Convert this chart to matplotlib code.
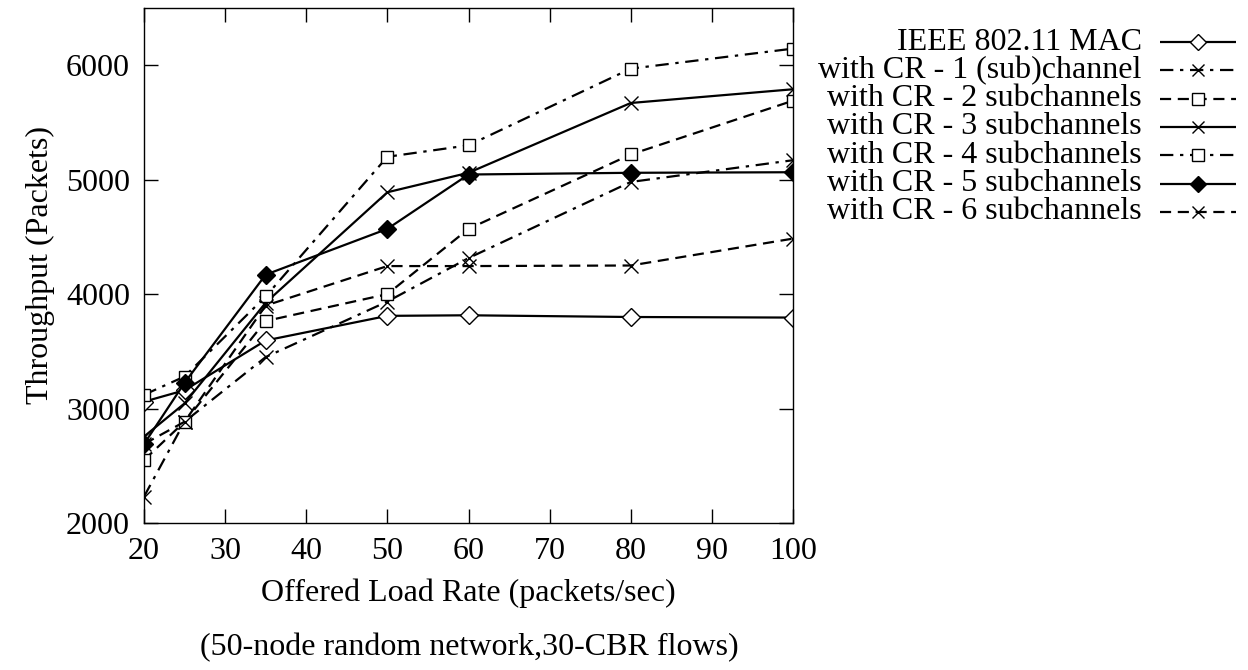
import numpy as np
import matplotlib
matplotlib.use('Agg')
import matplotlib.pyplot as plt

plt.rcParams['font.family'] = ['Liberation Serif', 'DejaVu Serif']
plt.rcParams['font.size'] = 23

# offered load (packets/sec)
load = [20, 25, 35, 50, 60, 80, 100]

ieee_mac = [3060, 3160, 3595, 3810, 3815, 3800, 3795]
cr_1 = [2230, 2885, 3450, 3935, 4315, 4980, 5170]
cr_2 = [2550, 2885, 3765, 4000, 4570, 5220, 5690]
cr_3 = [2755, 3045, 3925, 4890, 5060, 5670, 5790]
cr_4 = [3120, 3280, 3980, 5200, 5300, 5970, 6145]
cr_5 = [2690, 3225, 4170, 4570, 5045, 5060, 5065]
cr_6 = [2690, 2885, 3900, 4245, 4245, 4250, 4485]

labels = ['IEEE 802.11 MAC', 'with CR - 1 (sub)channel', 'with CR - 2 subchannels',
          'with CR - 3 subchannels', 'with CR - 4 subchannels', 'with CR - 5 subchannels',
          'with CR - 6 subchannels']

dashdot = (0, (6, 3, 1.5, 3))
dashed = (0, (5, 3))
# style per series: linestyle, marker, fill, marker size
styles = [('-', 'D', 'white', 9),
          (dashdot, 'x', 'white', 10),
          (dashed, 's', 'white', 9),
          ('-', 'x', 'white', 10),
          (dashdot, 's', 'white', 9),
          ('-', 'D', 'black', 9),
          (dashed, 'x', 'white', 10)]

series = [ieee_mac, cr_1, cr_2, cr_3, cr_4, cr_5, cr_6]

fig = plt.figure(figsize=(12.48, 6.7), dpi=100)
ax = fig.add_axes([144 / 1248, 1 - 523 / 670, (793 - 144) / 1248, (523 - 8) / 670])

for vals, (ls, mk, fc, ms) in zip(series, styles):
    ax.plot(load, vals, color='black', linestyle=ls, linewidth=1.6, marker=mk,
            markersize=ms, markerfacecolor=fc, markeredgecolor='black', markeredgewidth=1.0)

ax.set_xlim(20, 100)
ax.set_ylim(2000, 6500)
ax.set_xticks(np.arange(20, 101, 10))
ax.set_yticks(np.arange(2000, 6001, 1000))
ax.tick_params(direction='in', top=True, right=True, length=10, width=1, pad=10)
for s in ax.spines.values():
    s.set_linewidth(1)
ax.set_xlabel('Offered Load Rate (packets/sec)', labelpad=9)
ax.set_ylabel('Throughput (Packets)', labelpad=8)

fig.text(469 / 1248, 1 - 648 / 670, '(50-node random network,30-CBR flows)', ha='center', va='center')

# gnuplot style key: right aligned text, sample line on the right
lax = fig.add_axes([1160 / 1248, 1 - 226 / 670, (1236 - 1160) / 1248, (226 - 28) / 670])
lax.set_xlim(0, 1)
lax.set_ylim(len(labels) - 0.5, -0.5)
lax.axis('off')
for i, (lab, (ls, mk, fc, ms)) in enumerate(zip(labels, styles)):
    lax.plot([0, 1], [i, i], color='black', linestyle=ls, linewidth=1.6)
    lax.plot([0.5], [i], color='black', marker=mk, markersize=ms - 1,
             markerfacecolor=fc, markeredgecolor='black', markeredgewidth=1.0)
    lax.text(-0.24, i, lab, ha='right', va='center')

fig.savefig('out.png', dpi=100)
